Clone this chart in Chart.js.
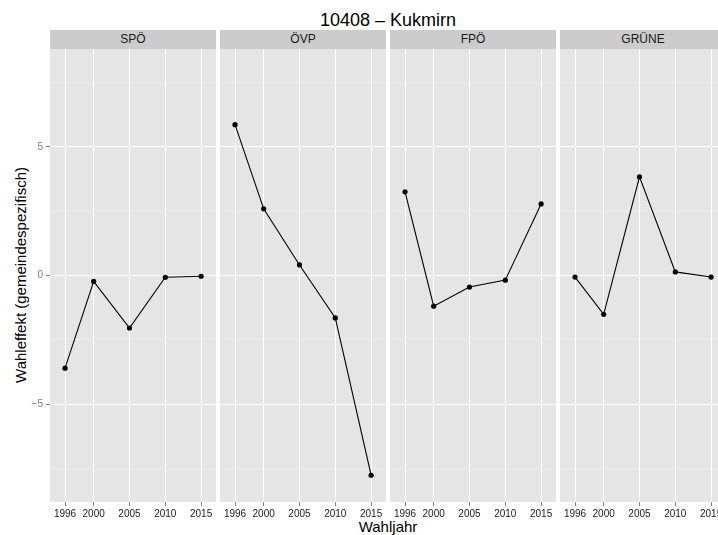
<!DOCTYPE html>
<html>
<head>
<meta charset="utf-8">
<script src="https://cdn.jsdelivr.net/npm/chart.js@4.4.1/dist/chart.umd.min.js"></script>
<style>
    body { margin: 0; background: #fff; }
    #wrap {
        position: relative; width: 718px; height: 535px; overflow: hidden;
        font-family: "Liberation Sans", Arial, sans-serif; color: #000;
    }
    .strip {
        position: absolute; top: 30px; height: 19px; width: 166px;
        background: #cccccc; color: #1a1a1a; font-size: 12px;
        line-height: 19px; text-align: center;
    }
    canvas { position: absolute; top: 49px; }
    #title {
        position: absolute; top: 10px; left: 388px; transform: translateX(-50%);
        font-size: 18px; line-height: 20px; white-space: nowrap;
    }
    #xtitle {
        position: absolute; top: 518px; left: 388px; transform: translateX(-50%);
        font-size: 15px; line-height: 17px; white-space: nowrap;
    }
    #ytitle {
        position: absolute; left: 20px; top: 275px;
        transform: translate(-50%, -50%) rotate(-90deg);
        font-size: 15px; line-height: 17px; white-space: nowrap;
    }
</style>
</head>
<body>
<div id="wrap">
    <div id="title">10408 – Kukmirn</div>
    <div id="ytitle">Wahleffekt (gemeindespezifisch)</div>
    <div id="xtitle">Wahljahr</div>
</div>
<script>
    // data
    var years = [1996, 2000, 2005, 2010, 2015];
    var parties = ['SPÖ', 'ÖVP', 'FPÖ', 'GRÜNE'];
    var spoValues = [-3.60, -0.23, -2.04, -0.07, -0.03];
    var ovpValues = [5.86, 2.59, 0.41, -1.65, -7.76];
    var fpoValues = [3.25, -1.19, -0.45, -0.18, 2.78];
    var grueneValues = [-0.06, -1.51, 3.83, 0.14, -0.06];
    var yTicks = [-7.5, -5, -2.5, 0, 2.5, 5, 7.5];

    var seriesValues = [spoValues, ovpValues, fpoValues, grueneValues];
    var panelLeft = [50, 220, 390, 560];
    var panelWidth = 166;
    var fontFamily = '"Liberation Sans", Arial, sans-serif';

    var panelBg = {
        id: 'panelBg',
        beforeDraw: function (chart) {
            var a = chart.chartArea;
            var ctx = chart.ctx;
            ctx.save();
            ctx.fillStyle = '#e5e5e5';
            ctx.fillRect(a.left, a.top, a.right - a.left, a.bottom - a.top);
            ctx.restore();
        }
    };

    var wrap = document.getElementById('wrap');

    parties.forEach(function (party, i) {
        var strip = document.createElement('div');
        strip.className = 'strip';
        strip.style.left = panelLeft[i] + 'px';
        strip.textContent = party;
        wrap.appendChild(strip);

        var axisWidth = i === 0 ? 50 : 0;
        var canvas = document.createElement('canvas');
        canvas.width = panelWidth + axisWidth;
        canvas.height = 473;
        canvas.style.left = (panelLeft[i] - axisWidth) + 'px';
        wrap.appendChild(canvas);

        new Chart(canvas.getContext('2d'), {
            type: 'line',
            data: {
                datasets: [{
                    data: years.map(function (y, j) { return { x: y, y: seriesValues[i][j] }; }),
                    borderColor: '#000',
                    borderWidth: 1.1,
                    pointRadius: 2.6,
                    pointBackgroundColor: '#000',
                    pointBorderWidth: 0,
                    tension: 0
                }]
            },
            options: {
                responsive: false,
                animation: false,
                layout: { padding: 0, autoPadding: false },
                plugins: {
                    legend: { display: false },
                    tooltip: { enabled: false }
                },
                scales: {
                    x: {
                        type: 'linear',
                        min: 1993.9,
                        max: 2017.08,
                        afterBuildTicks: function (s) {
                            s.ticks = years.map(function (v) { return { value: v }; });
                        },
                        afterFit: function (s) {
                            s.height = 20;
                            s.paddingLeft = 0;
                            s.paddingRight = 0;
                        },
                        border: { display: false },
                        grid: { color: '#ffffff', lineWidth: 1, tickColor: '#7f7f7f', tickLength: 4 },
                        ticks: {
                            color: '#1a1a1a',
                            font: { size: 10, family: fontFamily },
                            padding: 2,
                            maxRotation: 0,
                            autoSkip: false,
                            callback: function (v) { return String(v); }
                        }
                    },
                    y: {
                        min: -8.8,
                        max: 8.8,
                        afterBuildTicks: function (s) {
                            s.ticks = yTicks.map(function (v) { return { value: v }; });
                        },
                        afterFit: function (s) {
                            s.width = axisWidth;
                            s.paddingTop = 0;
                            s.paddingBottom = 0;
                        },
                        border: { display: false },
                        grid: {
                            color: function (c) { return c.tick && c.tick.value % 5 === 0 ? '#ffffff' : '#f2f2f2'; },
                            lineWidth: function (c) { return c.tick && c.tick.value % 5 === 0 ? 1 : 0.6; },
                            tickColor: function (c) { return c.tick && c.tick.value % 5 === 0 ? '#7f7f7f' : 'rgba(0,0,0,0)'; },
                            drawTicks: i === 0,
                            tickLength: 4
                        },
                        ticks: {
                            display: i === 0,
                            color: '#7f7f7f',
                            font: { size: 10, family: fontFamily },
                            padding: 3,
                            autoSkip: false,
                            callback: function (v) {
                                if (v % 5 !== 0) return '';
                                return v < 0 ? '\u2212' + Math.abs(v) : String(v);
                            }
                        }
                    }
                }
            },
            plugins: [panelBg]
        });
    });
</script>
</body>
</html>
